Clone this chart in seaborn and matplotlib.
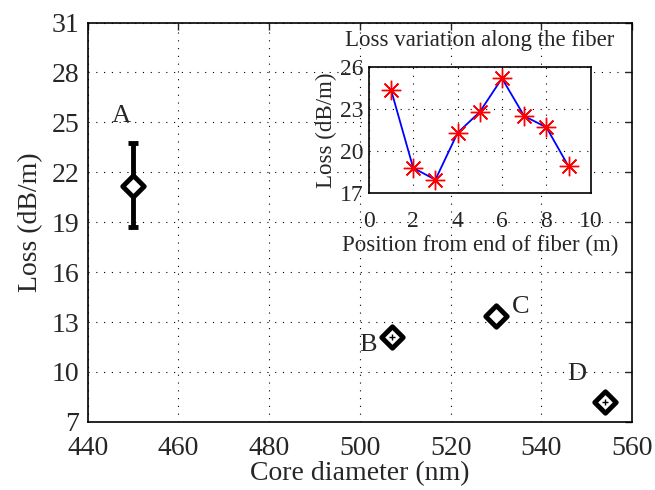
import matplotlib
matplotlib.use("Agg")
import matplotlib.pyplot as plt
import seaborn as sns
import pandas as pd

# main data: loss vs core diameter
samples = ["A", "B", "C", "D"]
core_diameter = [450, 507, 530, 554]
loss = [21.2, 12.1, 13.35, 8.2]
loss_err_low = [18.7, None, None, None]
loss_err_high = [23.75, None, None, None]

# inset data: loss along the fiber
position = [1, 2, 3, 4, 5, 6, 7, 8, 9]
loss_pos = [24.4, 18.8, 17.95, 21.3, 22.8, 25.2, 22.5, 21.7, 18.9]

sns.set_style("white")
plt.rcParams['font.family'] = ['Liberation Serif', 'DejaVu Serif']

df = pd.DataFrame({"sample": samples, "d": core_diameter, "loss": loss})
df_pos = pd.DataFrame({"pos": position, "loss": loss_pos})

fig = plt.figure(figsize=(6.55, 4.9), dpi=100)
ax = fig.add_axes([0.134, 0.139, 0.831, 0.815])

grid_kw = dict(color="black", linestyle=(0, (1, 6)), linewidth=0.8)

# error bar on sample A
ax.vlines(core_diameter[0], loss_err_low[0], loss_err_high[0], color="black", lw=3.5, zorder=2)
ax.hlines([loss_err_low[0], loss_err_high[0]], core_diameter[0] - 1.1, core_diameter[0] + 1.1,
          color="black", lw=3.5, zorder=2)

sns.scatterplot(data=df, x="d", y="loss", marker="D", s=120, color="white",
                edgecolor="black", linewidth=3.5, ax=ax, zorder=3, legend=False)
# small crosses inside B and D
ax.scatter([core_diameter[1], core_diameter[3]], [loss[1], loss[3]], marker="+",
           s=22, color="black", linewidth=1, zorder=4)

label_pos = {"A": (447.3, 25.4), "B": (501.8, 11.6), "C": (535.5, 13.9), "D": (547.7, 9.9)}
for s in samples:
    x, y = label_pos[s]
    ax.text(x, y, s, fontsize=19, ha="center", va="center")

ax.set_xlim(440, 560)
ax.set_ylim(7, 31)
ax.set_xticks(range(440, 561, 20))
ax.set_yticks(range(7, 32, 3))
ax.grid(True, **grid_kw)
ax.tick_params(labelsize=20, direction="in", length=5, width=1, top=True, right=True)
ax.tick_params(axis="x", pad=10)
ax.tick_params(axis="y", pad=6)
ax.set_xlabel("Core diameter (nm)", fontsize=20, labelpad=0)
ax.set_ylabel("Loss (dB/m)", fontsize=20, labelpad=6)
for sp in ax.spines.values():
    sp.set_linewidth(1.2)
    sp.set_color("black")

# inset
ins = fig.add_axes([0.563, 0.606, 0.339, 0.257])
sns.lineplot(data=df_pos, x="pos", y="loss", color="blue", lw=1.3, ax=ins)
ins.plot(position, loss_pos, linestyle="none", marker=(8, 2, 0), markersize=14,
         color="red", markeredgecolor="red", markeredgewidth=1.0)
ins.set_xlim(0, 10)
ins.set_ylim(17, 26)
ins.set_xticks(range(0, 11, 2))
ins.set_yticks([17, 20, 23, 26])
ins.grid(True, **grid_kw)
ins.tick_params(labelsize=17, direction="in", length=3)
ins.tick_params(axis="x", pad=13)
ins.tick_params(axis="y", pad=4)
ins.set_xlabel("Position from end of fiber (m)", fontsize=16.5, labelpad=2)
ins.set_ylabel("Loss (dB/m)", fontsize=16.5, labelpad=2)
ins.set_title("Loss variation along the fiber", fontsize=16.5, pad=15)
for sp in ins.spines.values():
    sp.set_linewidth(1.2)
    sp.set_color("black")

fig.savefig("out.png", dpi=100)
